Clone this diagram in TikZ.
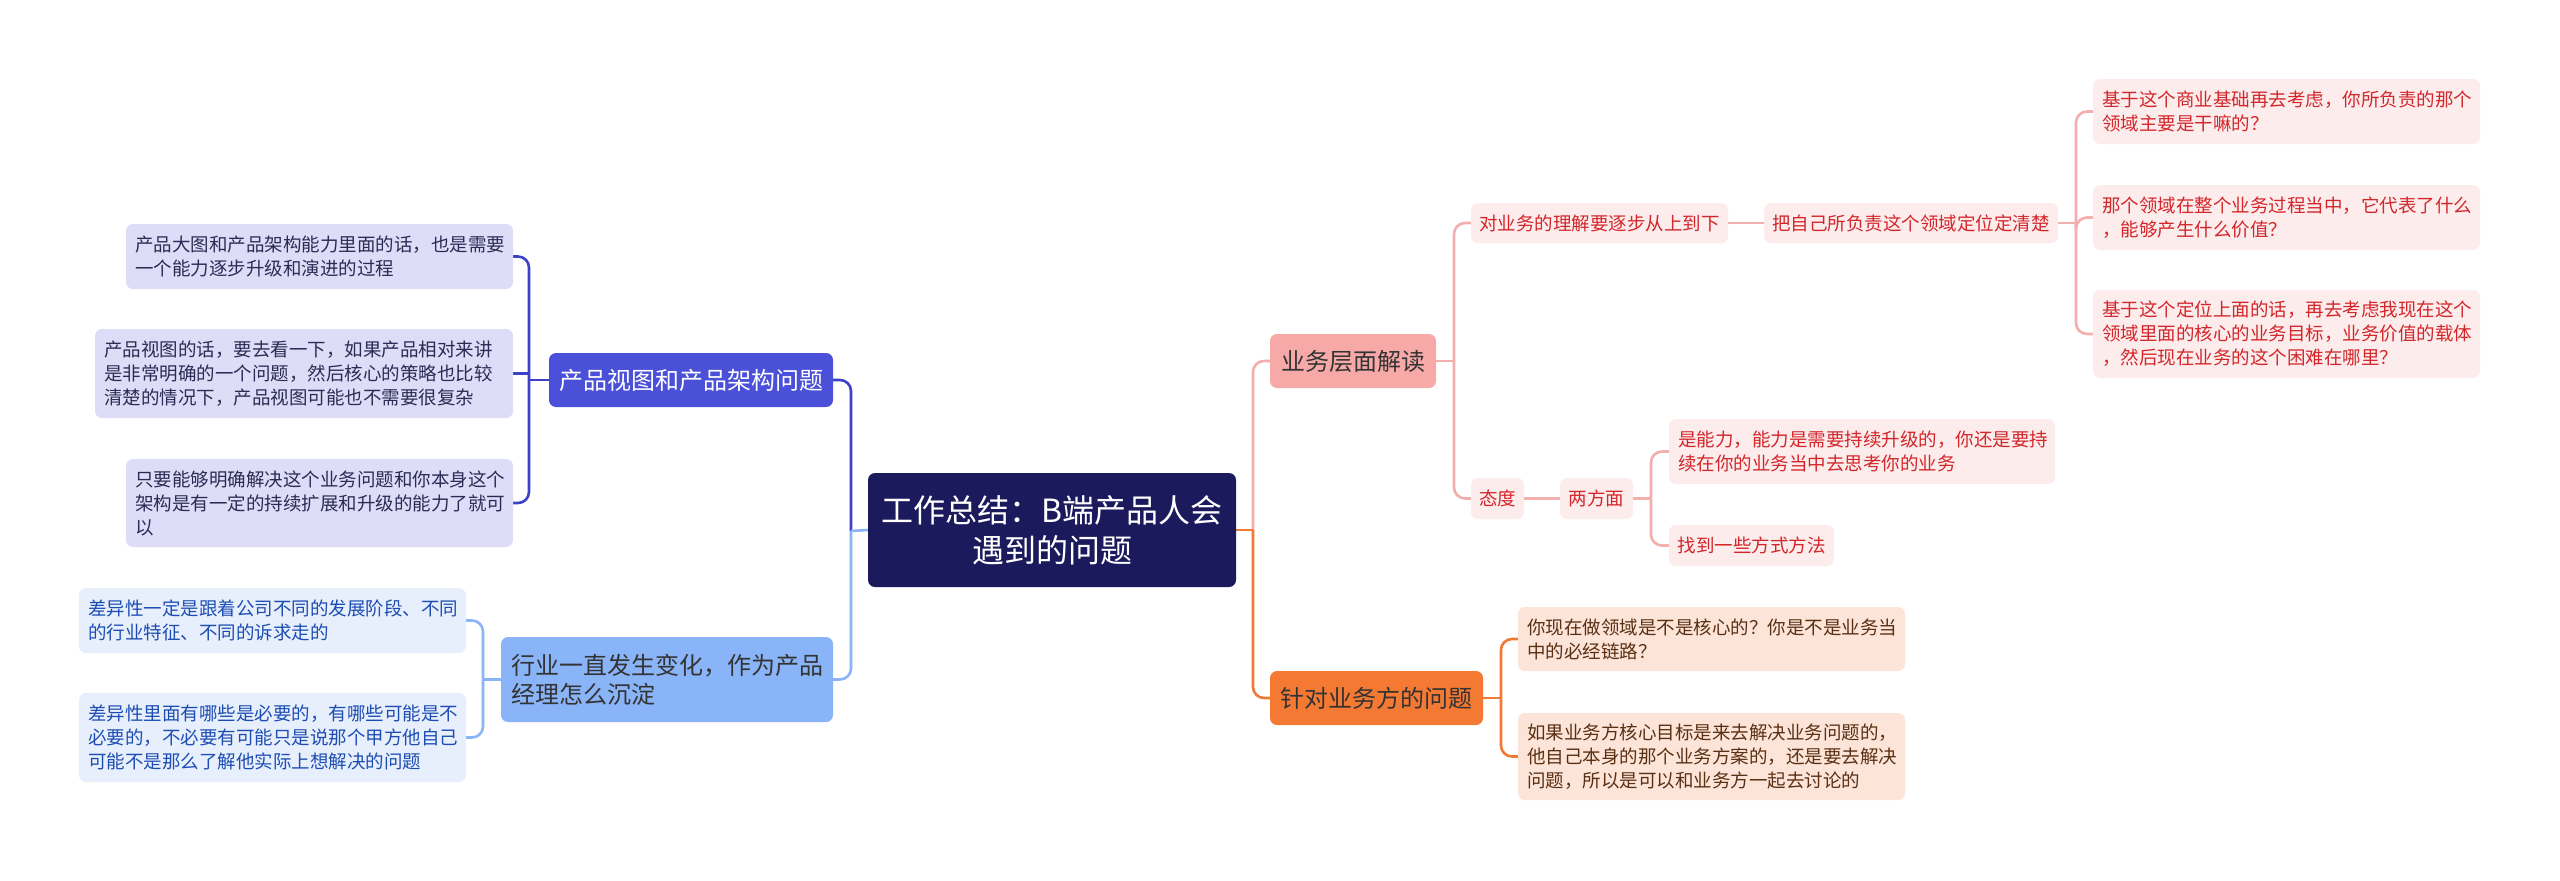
\documentclass[tikz,border=0pt]{standalone}
\usepackage{fontspec}
\usetikzlibrary{backgrounds}
\setmainfont{Noto Sans CJK SC}
\definecolor{rootF}{HTML}{1B1A5C}
\definecolor{bAF}{HTML}{4A50D8}
\definecolor{bAL}{HTML}{3C41C6}
\definecolor{lAF}{HTML}{DEDDF7}
\definecolor{lAT}{HTML}{2B2B55}
\definecolor{bBF}{HTML}{8AB4F8}
\definecolor{bBL}{HTML}{8AB4F8}
\definecolor{lBF}{HTML}{E7EFFD}
\definecolor{lBT}{HTML}{1D4DB3}
\definecolor{bCF}{HTML}{F7A9A8}
\definecolor{bCL}{HTML}{F3AEAE}
\definecolor{lCF}{HTML}{FDECEC}
\definecolor{lCT}{HTML}{D3262B}
\definecolor{bDF}{HTML}{F47A33}
\definecolor{bDL}{HTML}{EE7A35}
\definecolor{lDF}{HTML}{FDE4D8}
\definecolor{lDT}{HTML}{5A3014}
\definecolor{darkT}{HTML}{333333}
\tikzset{
  box/.style={rounded corners=7pt, inner sep=0pt, align=left},
  leaftext/.style={font=\fontsize{18.5}{24}\selectfont},
  branchtext/.style={font=\fontsize{24}{29}\selectfont},
  multi/.style={inner xsep=9pt, inner ysep=0pt},
  rootnode/.style={box, fill=rootF, text=white, align=center, font=\fontsize{32}{40}\selectfont},
  brA/.style={box, branchtext, fill=bAF, text=white},
  brB/.style={box, branchtext, fill=bBF, text=darkT},
  brC/.style={box, branchtext, fill=bCF, text=darkT},
  brD/.style={box, branchtext, fill=bDF, text=darkT},
  lfA/.style={box, leaftext, fill=lAF, text=lAT},
  lfB/.style={box, leaftext, fill=lBF, text=lBT},
  lfC/.style={box, leaftext, fill=lCF, text=lCT},
  lfD/.style={box, leaftext, fill=lDF, text=lDT},
  con/.style={line width=2.6pt, rounded corners=11pt},
  conA/.style={con, draw=bAL},
  conB/.style={con, draw=bBL},
  conC/.style={con, draw=bCL},
  conD/.style={con, draw=bDL},
}
\begin{document}
\begin{tikzpicture}[x=1pt, y=-1pt]
\useasboundingbox (0,0) rectangle (2560,881);

% root
\node[rootnode, minimum width=368pt, minimum height=114pt] (root) at (1052,530) {工作总结：B端产品人会\\遇到的问题};

% left branch 1
\node[brA, minimum width=284pt, minimum height=54pt] (b1) at (691,380) {产品视图和产品架构问题};
\node[lfA, multi, text width=369pt, minimum height=65pt] (L1) at (319.5,256.5) {产品大图和产品架构能力里面的话，也是需要\\一个能力逐步升级和演进的过程};
\node[lfA, multi, text width=400pt, minimum height=89pt] (L2) at (304,373.5) {产品视图的话，要去看一下，如果产品相对来讲\\是非常明确的一个问题，然后核心的策略也比较\\清楚的情况下，产品视图可能也不需要很复杂};
\node[lfA, multi, text width=369pt, minimum height=88pt] (L3) at (319.5,503) {只要能够明确解决这个业务问题和你本身这个\\架构是有一定的持续扩展和升级的能力了就可\\以};

% left branch 2
\node[brB, multi, inner xsep=10pt, text width=312pt, minimum height=85pt] (b2) at (667,679.5) {行业一直发生变化，作为产品\\经理怎么沉淀};
\node[lfB, multi, text width=369pt, minimum height=65pt] (B1) at (272.5,620.5) {差异性一定是跟着公司不同的发展阶段、不同\\的行业特征、不同的诉求走的};
\node[lfB, multi, text width=369pt, minimum height=89pt] (B2) at (272.5,737.5) {差异性里面有哪些是必要的，有哪些可能是不\\必要的，不必要有可能只是说那个甲方他自己\\可能不是那么了解他实际上想解决的问题};

% right branch 1
\node[brC, minimum width=166pt, minimum height=54pt] (b3) at (1353,361) {业务层面解读};
\node[lfC, minimum width=257pt, minimum height=40pt] (P1) at (1599.5,223) {对业务的理解要逐步从上到下};
\node[lfC, minimum width=294pt, minimum height=40pt] (P2) at (1911,223) {把自己所负责这个领域定位定清楚};
\node[lfC, multi, text width=369pt, minimum height=65pt] (R1) at (2286.5,111.5) {基于这个商业基础再去考虑，你所负责的那个\\领域主要是干嘛的？};
\node[lfC, multi, text width=369pt, minimum height=65pt] (R2) at (2286.5,217.5) {那个领域在整个业务过程当中，它代表了什么\\，能够产生什么价值？};
\node[lfC, multi, text width=369pt, minimum height=88pt] (R3) at (2286.5,334) {基于这个定位上面的话，再去考虑我现在这个\\领域里面的核心的业务目标，业务价值的载体\\，然后现在业务的这个困难在哪里？};
\node[lfC, minimum width=53pt, minimum height=41pt] (T1) at (1497.5,498.5) {态度};
\node[lfC, minimum width=73pt, minimum height=41pt] (T2) at (1596.5,498.5) {两方面};
\node[lfC, multi, text width=368pt, minimum height=65pt] (Q1) at (1862,451.5) {是能力，能力是需要持续升级的，你还是要持\\续在你的业务当中去思考你的业务};
\node[lfC, minimum width=165pt, minimum height=41pt] (Q2) at (1751.5,545.5) {找到一些方式方法};

% right branch 2
\node[brD, minimum width=213pt, minimum height=54pt] (b4) at (1376.5,698) {针对业务方的问题};
\node[lfD, multi, text width=369pt, minimum height=64pt] (O1) at (1711.5,639) {你现在做领域是不是核心的？你是不是业务当\\中的必经链路？};
\node[lfD, multi, text width=369pt, minimum height=87pt] (O2) at (1711.5,756.5) {如果业务方核心目标是来去解决业务问题的，\\他自己本身的那个业务方案的，还是要去解决\\问题，所以是可以和业务方一起去讨论的};

% junction coordinates
\coordinate (jL) at (851,531);
\coordinate (jR) at (1253,530);
\coordinate (jA) at (529,380);
\coordinate (jB) at (483,679.5);
\coordinate (jC) at (1454,361);
\coordinate (jP) at (2076,223);
\coordinate (jT) at (1651,498.5);
\coordinate (jD) at (1501,698);

\begin{scope}[on background layer]
\fill[white] (0,0) rectangle (2560,881);
% connectors left
\draw[conA] (b1.east) -| (jL);
\draw[conB] (b2.east) -| (jL);
\draw[conB] (jL) -- (root.west);
\draw[conA] (b1.west) -- (jA);
\draw[conA] (jA) |- (L1.east);
\draw[conA] (jA) |- (L3.east);
\draw[conA] (L2.east) -- (L2.east -| jA);
\draw[conB] (b2.west) -- (jB);
\draw[conB] (jB) |- (B1.east);
\draw[conB] (jB) |- (B2.east);
% connectors right
\draw[conC] (jR) |- (b3.west);
\draw[conD] (root.east) -- (jR);
\draw[conD] (jR) |- (b4.west);
\draw[conC] (b3.east) -- (jC);
\draw[conC] (jC) |- (P1.west);
\draw[conC] (jC) |- (T1.west);
\draw[conC] (P1.east) -- (P2.west);
\draw[conC] (P2.east) -- (jP);
\draw[conC] (jP) |- (R1.west);
\draw[conC] (jP) |- (R2.west);
\draw[conC] (jP) |- (R3.west);
\draw[conC] (T1.east) -- (T2.west);
\draw[conC] (T2.east) -- (jT);
\draw[conC] (jT) |- (Q1.west);
\draw[conC] (jT) |- (Q2.west);
\draw[conD] (b4.east) -- (jD);
\draw[conD] (jD) |- (O1.west);
\draw[conD] (jD) |- (O2.west);
\end{scope}
\end{tikzpicture}
\end{document}
